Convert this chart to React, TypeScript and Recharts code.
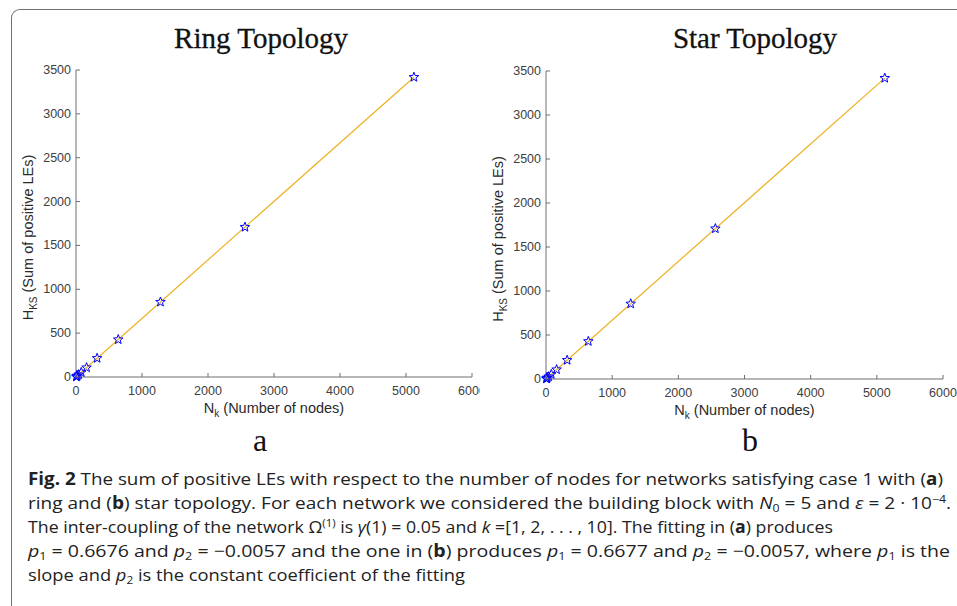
import React from "react";
import { ScatterChart, Scatter, XAxis, YAxis, Label } from "recharts";

// ---------------------------------------------------------------------------
// Data
// ---------------------------------------------------------------------------

const nodeCounts = [5, 10, 20, 40, 80, 160, 320, 640, 1280, 2560, 5120];
const ringHks = [3, 7, 14, 27, 53, 107, 214, 427, 855, 1709, 3418];
const starHks = [3, 7, 14, 27, 53, 107, 214, 428, 855, 1709, 3419];

const fitNodes = [0, 5120];
const ringFit = [0, 3418];
const starFit = [0, 3419];

const xTicks = [0, 1000, 2000, 3000, 4000, 5000, 6000];
const yTicks = [0, 500, 1000, 1500, 2000, 2500, 3000, 3500];

const AXIS = "#6e6e6e";
const TEXT = "#404040";
const STAR = "#0000ff";
const FIT = "#EDB120";

const toPoints = (xs: number[], ys: number[]) =>
  xs.map((x, i) => ({ x, y: ys[i] }));

// ---------------------------------------------------------------------------
// Marker + ticks
// ---------------------------------------------------------------------------

function StarMarker({ cx, cy }: any) {
  if (cx == null || cy == null) return <g />;
  const pts: string[] = [];
  for (let i = 0; i < 10; i++) {
    const r = i % 2 === 0 ? 5 : 2.1;
    const a = -Math.PI / 2 + (i * Math.PI) / 5;
    pts.push(`${cx + r * Math.cos(a)},${cy + r * Math.sin(a)}`);
  }
  return <polygon points={pts.join(" ")} fill="none" stroke={STAR} strokeWidth={1} />;
}

const NoMarker = () => <g />;

function BottomTick({ x, y, payload }: any) {
  return (
    <g>
      <line x1={x} x2={x} y1={y} y2={y - 4} stroke={AXIS} />
      <text x={x} y={y + 18} textAnchor="middle" fill={TEXT} fontSize={12.5} fontFamily="Liberation Sans, Arial, sans-serif">
        {payload.value}
      </text>
    </g>
  );
}

function TopTick({ x, y }: any) {
  return <line x1={x} x2={x} y1={y} y2={y + 4} stroke={AXIS} />;
}

function LeftTick({ x, y, payload }: any) {
  return (
    <g>
      <line x1={x} x2={x + 4} y1={y} y2={y} stroke={AXIS} />
      <text x={x - 5} y={y + 4} textAnchor="end" fill={TEXT} fontSize={12.5} fontFamily="Liberation Sans, Arial, sans-serif">
        {payload.value}
      </text>
    </g>
  );
}

function RightTick({ x, y }: any) {
  return <line x1={x} x2={x - 4} y1={y} y2={y} stroke={AXIS} />;
}

function XTitle({ viewBox }: any) {
  const cx = viewBox.x + viewBox.width / 2;
  const cy = viewBox.y + 36;
  return (
    <text x={cx} y={cy} textAnchor="middle" fill="#2a2a2a" fontSize={14.5} fontFamily="Liberation Sans, Arial, sans-serif">
      N<tspan dy={4} fontSize={10}>k</tspan>
      <tspan dy={-4}> (Number of nodes)</tspan>
    </text>
  );
}

function makeYTitle(offsetX: number) {
  return function YTitle({ viewBox }: any) {
    const cx = viewBox.x + offsetX;
    const cy = viewBox.y + viewBox.height / 2 + 14;
    return (
      <text
        x={cx}
        y={cy}
        transform={`rotate(-90, ${cx}, ${cy})`}
        textAnchor="middle"
        fill="#2a2a2a"
        fontSize={14.5}
        fontFamily="Liberation Sans, Arial, sans-serif"
      >
        H<tspan dy={4} fontSize={10}>KS</tspan>
        <tspan dy={-4}> (Sum of positive LEs)</tspan>
      </text>
    );
  };
}

// ---------------------------------------------------------------------------
// One panel
// ---------------------------------------------------------------------------

interface PanelProps {
  width: number;
  height: number;
  margin: { top: number; right: number; bottom: number; left: number };
  yAxisWidth: number;
  yTitleX: number;
  values: number[];
  fit: number[];
}

function Panel({ width, height, margin, yAxisWidth, yTitleX, values, fit }: PanelProps) {
  return (
    <ScatterChart width={width} height={height} margin={margin} style={{ overflow: "hidden" }}>
      <XAxis
        xAxisId="bottom"
        dataKey="x"
        type="number"
        domain={[0, 6000]}
        ticks={xTicks}
        interval={0}
        height={30}
        tickSize={0}
        tickMargin={0}
        tickLine={false}
        axisLine={{ stroke: AXIS }}
        tick={<BottomTick />}
      >
        <Label content={<XTitle />} />
      </XAxis>
      <XAxis
        xAxisId="top"
        orientation="top"
        dataKey="x"
        type="number"
        domain={[0, 6000]}
        ticks={xTicks}
        interval={0}
        height={0}
        tickSize={0}
        tickMargin={0}
        tickLine={false}
        axisLine={{ stroke: AXIS }}
        tick={<TopTick />}
      />
      <YAxis
        yAxisId="left"
        dataKey="y"
        type="number"
        domain={[0, 3500]}
        ticks={yTicks}
        interval={0}
        width={yAxisWidth}
        tickSize={0}
        tickMargin={0}
        tickLine={false}
        axisLine={{ stroke: AXIS }}
        tick={<LeftTick />}
      >
        <Label content={React.createElement(makeYTitle(yTitleX))} />
      </YAxis>
      <YAxis
        yAxisId="right"
        orientation="right"
        dataKey="y"
        type="number"
        domain={[0, 3500]}
        ticks={yTicks}
        interval={0}
        width={0}
        tickSize={0}
        tickMargin={0}
        tickLine={false}
        axisLine={{ stroke: AXIS }}
        tick={<RightTick />}
      />
      <Scatter
        xAxisId="bottom"
        yAxisId="left"
        data={toPoints(fitNodes, fit)}
        line={{ stroke: FIT, strokeWidth: 1.2 }}
        shape={<NoMarker />}
        isAnimationActive={false}
      />
      <Scatter
        xAxisId="bottom"
        yAxisId="left"
        data={toPoints(nodeCounts, values)}
        shape={<StarMarker />}
        isAnimationActive={false}
      />
    </ScatterChart>
  );
}

// ---------------------------------------------------------------------------
// Figure
// ---------------------------------------------------------------------------

const serif = "'Liberation Serif', 'Times New Roman', serif";
const capFont = "'Open Sans', 'Noto Sans', sans-serif";

export default function App() {
  return (
    <div
      style={{
        position: "absolute",
        left: 0,
        top: 0,
        width: 957,
        height: 606,
        overflow: "hidden",
        background: "#fff",
      }}
    >
      <div
        style={{
          position: "absolute",
          left: 11,
          top: 9,
          width: 1000,
          height: 700,
          borderLeft: "1.5px solid #707070",
          borderTop: "1.5px solid #707070",
          borderTopLeftRadius: 9,
        }}
      />

      <div style={{ position: "absolute", left: 0, top: 0 }}>
        <Panel
          width={480}
          height={425}
          margin={{ top: 70, right: 8, bottom: 18, left: 0 }}
          yAxisWidth={76}
          yTitleX={33}
          values={ringHks}
          fit={ringFit}
        />
      </div>
      <div style={{ position: "absolute", left: 480, top: 0 }}>
        <Panel
          width={477}
          height={425}
          margin={{ top: 71, right: 14, bottom: 16, left: 0 }}
          yAxisWidth={66}
          yTitleX={23}
          values={starHks}
          fit={starFit}
        />
      </div>

      <div style={{ position: "absolute", left: 161, width: 200, top: 22, textAlign: "center", fontFamily: serif, fontSize: 29, color: "#111", lineHeight: "32px", WebkitTextStroke: "0.3px #111" }}>
        Ring Topology
      </div>
      <div style={{ position: "absolute", left: 655, width: 200, top: 22, textAlign: "center", fontFamily: serif, fontSize: 29, color: "#111", lineHeight: "32px", WebkitTextStroke: "0.3px #111" }}>
        Star Topology
      </div>

      <div style={{ position: "absolute", left: 230, width: 60, top: 422, textAlign: "center", fontFamily: serif, fontSize: 32, color: "#111", lineHeight: "36px" }}>
        a
      </div>
      <div style={{ position: "absolute", left: 720, width: 60, top: 422, textAlign: "center", fontFamily: serif, fontSize: 32, color: "#111", lineHeight: "36px" }}>
        b
      </div>

      <svg width={957} height={606} style={{ position: "absolute", left: 0, top: 0 }} fontFamily={capFont} fontSize={17} fill="#222">
        <text x={28} y={485} textLength={915} lengthAdjust="spacingAndGlyphs">
          <tspan fontWeight={700}>Fig. 2</tspan>
          {"  The sum of positive LEs with respect to the number of nodes for networks satisfying case 1 with ("}
          <tspan fontWeight={700}>a</tspan>)
        </text>
        <text x={28} y={509} textLength={923} lengthAdjust="spacingAndGlyphs">
          {"ring and ("}
          <tspan fontWeight={700}>b</tspan>
          {") star topology. For each network we considered the building block with "}
          <tspan fontStyle="italic">N</tspan>
          <tspan dy={3} fontSize={11}>0</tspan>
          <tspan dy={-3}>{" = 5 and "}</tspan>
          <tspan fontStyle="italic">ε</tspan>
          {" = 2 · 10"}
          <tspan dy={-6} fontSize={11}>−4</tspan>
          <tspan dy={6}>.</tspan>
        </text>
        <text x={28} y={533} textLength={805} lengthAdjust="spacingAndGlyphs">
          {"The inter-coupling of the network Ω"}
          <tspan dy={-6} fontSize={11}>(1)</tspan>
          <tspan dy={6}>{" is "}</tspan>
          <tspan fontStyle="italic">γ</tspan>
          {"(1) = 0.05 and "}
          <tspan fontStyle="italic">k</tspan>
          {" =[1, 2, . . . , 10]. The fitting in ("}
          <tspan fontWeight={700}>a</tspan>
          {") produces"}
        </text>
        <text x={28} y={557} textLength={922} lengthAdjust="spacingAndGlyphs">
          <tspan fontStyle="italic">p</tspan>
          <tspan dy={3} fontSize={11}>1</tspan>
          <tspan dy={-3}>{" = 0.6676 and "}</tspan>
          <tspan fontStyle="italic">p</tspan>
          <tspan dy={3} fontSize={11}>2</tspan>
          <tspan dy={-3}>{" = −0.0057 and the one in ("}</tspan>
          <tspan fontWeight={700}>b</tspan>
          {") produces "}
          <tspan fontStyle="italic">p</tspan>
          <tspan dy={3} fontSize={11}>1</tspan>
          <tspan dy={-3}>{" = 0.6677 and "}</tspan>
          <tspan fontStyle="italic">p</tspan>
          <tspan dy={3} fontSize={11}>2</tspan>
          <tspan dy={-3}>{" = −0.0057, where "}</tspan>
          <tspan fontStyle="italic">p</tspan>
          <tspan dy={3} fontSize={11}>1</tspan>
          <tspan dy={-3}>{" is the"}</tspan>
        </text>
        <text x={28} y={581} textLength={437} lengthAdjust="spacingAndGlyphs">
          {"slope and "}
          <tspan fontStyle="italic">p</tspan>
          <tspan dy={3} fontSize={11}>2</tspan>
          <tspan dy={-3}>{" is the constant coefficient of the fitting"}</tspan>
        </text>
      </svg>
    </div>
  );
}
